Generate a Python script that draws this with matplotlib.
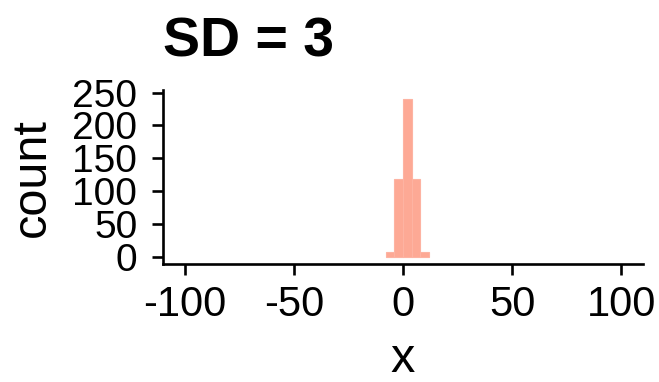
import matplotlib
matplotlib.use("Agg")
import matplotlib.pyplot as plt
import numpy as np

# histogram bins
bin_edges = [-8, -4, 0, 4, 8, 12]
counts = [8, 118, 240, 118, 8]
x_ticks = [-100, -50, 0, 50, 100]
y_ticks = [0, 50, 100, 150, 200, 250]
title = "SD = 3"

plt.rcParams['font.family'] = ['Liberation Sans', 'DejaVu Sans']
plt.rcParams['axes.unicode_minus'] = False

W, H = 659, 382
fig = plt.figure(figsize=(W / 100, H / 100), dpi=100)
# panel box in pixels: left 163, right 643, top 90, bottom 264
ax = fig.add_axes([163 / W, 1 - 264 / H, (643 - 163) / W, (264 - 90) / H])

edges = np.array(bin_edges)
ax.bar(edges[:-1], counts, width=np.diff(edges), align='edge',
       color='#FDA995', edgecolor='#FDB3A2', linewidth=0.8)

ax.set_xlim(-110, 110)
ax.set_ylim(-11, 254)
ax.set_xticks(x_ticks)
ax.set_yticks(y_ticks)

for s in ['top', 'right']:
    ax.spines[s].set_visible(False)
for s in ['left', 'bottom']:
    ax.spines[s].set_linewidth(1.9)

ax.tick_params(axis='both', length=8, width=1.9, color='black')
ax.tick_params(axis='x', labelsize=30, pad=7)
ax.tick_params(axis='y', labelsize=28, pad=10.5)

ax.set_title(title, loc='left', fontsize=40, fontweight='bold', pad=24)

fig.text(32 / W, 1 - 178 / H, "count", rotation=90, ha='center', va='center', fontsize=35)
fig.text(403 / W, 1 - 360 / H, "x", ha='center', va='center', fontsize=35)

fig.savefig("out.png", dpi=100)
